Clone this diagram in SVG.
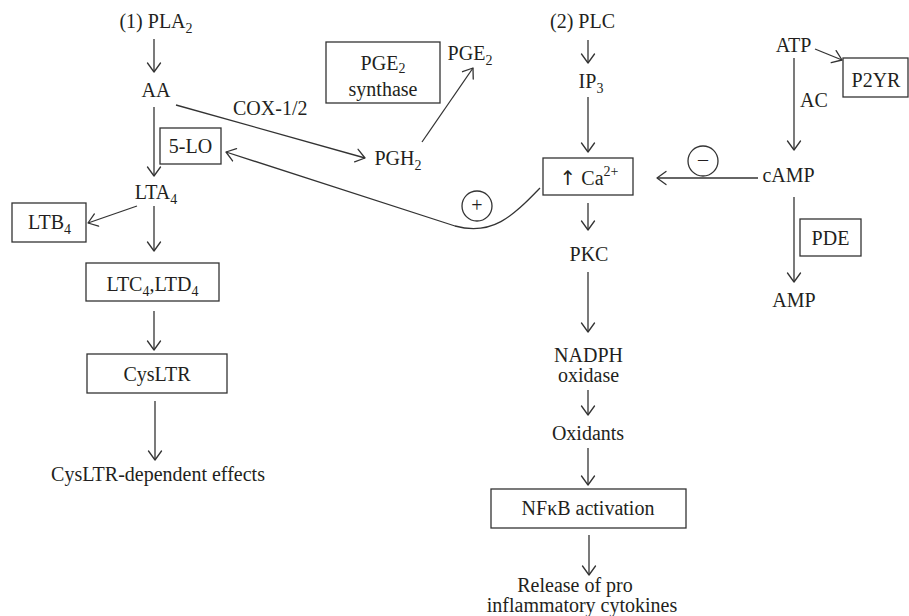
<svg xmlns="http://www.w3.org/2000/svg" width="909" height="616" viewBox="0 0 909 616">
<defs>
<marker id="ah" viewBox="-10 -8 12 16" refX="0" refY="0" markerWidth="12" markerHeight="16" orient="auto" markerUnits="userSpaceOnUse">
<path d="M-9,-6.5 L0,0 L-9,6.5" fill="none" stroke="#333" stroke-width="1.3" stroke-linejoin="round" stroke-linecap="round"/>
</marker>
</defs>
<style>
text{font-family:"Liberation Serif","Times New Roman",serif;font-size:20px;fill:#231f20}
.m{text-anchor:middle}
.s{font-size:14px}
.up{font-family:"DejaVu Sans",sans-serif;font-size:20px}
.box{fill:#fff;stroke:#333;stroke-width:1.3}
.ln{fill:none;stroke:#333;stroke-width:1.3}
.ar{fill:none;stroke:#333;stroke-width:1.3;marker-end:url(#ah)}
</style>
<rect width="909" height="616" fill="#fff"/>
<g id="connectors">
<path class="ar" d="M154,39 L154,72"/>
<path class="ar" d="M154,107 L154,176"/>
<path class="ar" d="M176,105 L365,158"/>
<path class="ar" d="M422,142 L473,68"/>
<path class="ar" d="M137,206 L88,223"/>
<path class="ar" d="M154,206 L154,251"/>
<path class="ar" d="M154,311 L154,350"/>
<path class="ar" d="M155,401 L155,460"/>
<path class="ar" d="M540,188 C512,217 492,236 455,226 L226,152"/>
<path class="ar" d="M588,40 L588,63"/>
<path class="ar" d="M588,97 L588,152"/>
<path class="ar" d="M588,203 L588,230"/>
<path class="ar" d="M588,272 L588,332"/>
<path class="ar" d="M588,390 L588,415"/>
<path class="ar" d="M588,448 L588,485"/>
<path class="ar" d="M589,535 L589,575"/>
<path class="ar" d="M815,49 L842,60"/>
<path class="ar" d="M794,58 L794,150"/>
<path class="ar" d="M758,178 L657,178"/>
<path class="ar" d="M794,197 L794,282"/>
</g>
<g id="pla2"><text class="m" x="156" y="28">(1) PLA<tspan class="s" dy="5">2</tspan></text></g>
<g id="aa"><text class="m" x="156" y="97">AA</text></g>
<g id="cox"><text x="233" y="115">COX-1/2</text></g>
<g id="lo5"><rect class="box" x="160" y="128" width="61" height="36"/><text class="m" x="190.5" y="153">5-LO</text></g>
<g id="lta4"><text class="m" x="156" y="199">LTA<tspan class="s" dy="5">4</tspan></text></g>
<g id="ltb4"><rect class="box" x="12" y="203" width="74" height="39"/><text class="m" x="49.5" y="229">LTB<tspan class="s" dy="5">4</tspan></text></g>
<g id="ltc4"><rect class="box" x="86" y="263" width="133" height="38"/><text class="m" x="152.5" y="291">LTC<tspan class="s" dy="5">4</tspan><tspan dy="-5">,LTD</tspan><tspan class="s" dy="5">4</tspan></text></g>
<g id="cysltr"><rect class="box" x="87" y="354" width="140" height="39"/><text class="m" x="157" y="381">CysLTR</text></g>
<g id="effects"><text class="m" x="158" y="481">CysLTR-dependent effects</text></g>
<g id="pge2syn"><rect class="box" x="326" y="42" width="114" height="61"/><text class="m"><tspan x="383" y="70">PGE</tspan><tspan class="s" dy="3">2</tspan><tspan x="383" y="96">synthase</tspan></text></g>
<g id="pge2"><text class="m" x="470" y="60">PGE<tspan class="s" dy="5">2</tspan></text></g>
<g id="pgh2"><text class="m" x="398" y="165">PGH<tspan class="s" dy="5">2</tspan></text></g>
<g id="plus"><circle class="ln" cx="477" cy="206" r="15"/><text class="m" x="477" y="212">+</text></g>
<g id="plc"><text class="m" x="582.5" y="28">(2) PLC</text></g>
<g id="ip3"><text class="m" x="591" y="88">IP<tspan class="s" dy="5">3</tspan></text></g>
<g id="ca"><rect class="box" x="543" y="158" width="90" height="37"/><text class="m" x="589" y="185"><tspan class="up">↑</tspan> Ca<tspan class="s" dy="-9">2+</tspan></text></g>
<g id="pkc"><text class="m" x="589" y="261">PKC</text></g>
<g id="nadph"><text class="m"><tspan x="588.5" y="362">NADPH</tspan><tspan x="588.5" y="382">oxidase</tspan></text></g>
<g id="oxidants"><text class="m" x="588" y="440">Oxidants</text></g>
<g id="nfkb"><rect class="box" x="491" y="489" width="195" height="39"/><text class="m" x="588" y="515">NFκB activation</text></g>
<g id="release"><text class="m"><tspan x="575" y="592">Release of pro</tspan><tspan x="582" y="612">inflammatory cytokines</tspan></text></g>
<g id="atp"><text class="m" x="793.5" y="52">ATP</text></g>
<g id="p2yr"><rect class="box" x="843" y="58" width="65" height="39"/><text class="m" x="876" y="87">P2YR</text></g>
<g id="ac"><text x="800" y="107">AC</text></g>
<g id="minus"><circle class="ln" cx="703" cy="161" r="15"/><text class="m" x="703" y="166">–</text></g>
<g id="camp"><text class="m" x="788.5" y="182">cAMP</text></g>
<g id="pde"><rect class="box" x="800" y="219" width="61" height="37"/><text class="m" x="830.5" y="245">PDE</text></g>
<g id="amp"><text class="m" x="794" y="307">AMP</text></g>
</svg>
